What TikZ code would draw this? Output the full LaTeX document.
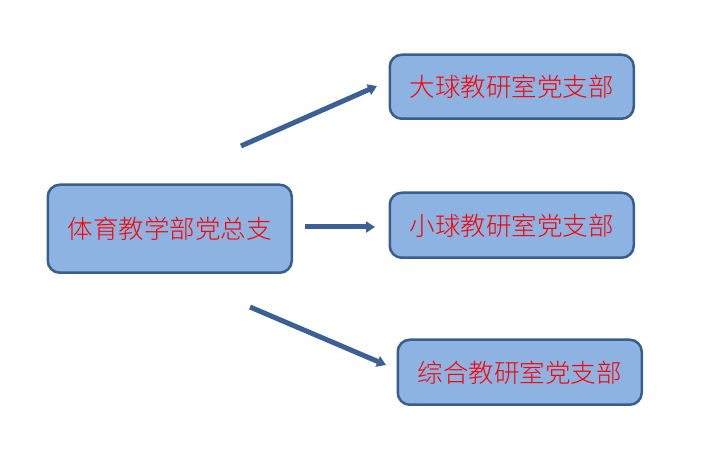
\documentclass[tikz,border=0pt]{standalone}
\usepackage{fontspec}
\newfontfamily\cjk{Noto Sans CJK SC Light}
\usetikzlibrary{arrows.meta}
\definecolor{boxfill}{HTML}{8DB3E2}
\definecolor{boxline}{HTML}{3A5E8C}
\definecolor{arrowc}{HTML}{3A6095}
\begin{document}
\begin{tikzpicture}[x=1pt,y=1pt,
  orgbox/.style={draw=boxline,fill=boxfill,line width=2.5pt,rounded corners=12pt,
    text=red,font=\cjk\fontsize{25.5}{30}\selectfont,anchor=north west,inner sep=0pt},
  link/.style={draw=arrowc,line width=5pt,-{Triangle[length=9pt,width=11pt]}}]
\useasboundingbox (0,0) rectangle (701,471);
\node[orgbox,minimum width=244pt,minimum height=88pt] (root) at (46.5,287.5) {体育教学部党总支};
\node[orgbox,minimum width=244pt,minimum height=64pt] (b1) at (388.5,417.5) {大球教研室党支部};
\node[orgbox,minimum width=244pt,minimum height=65pt] (b2) at (388.5,279.5) {小球教研室党支部};
\node[orgbox,minimum width=244pt,minimum height=65pt] (b3) at (396.5,132.5) {综合教研室党支部};
\coordinate (s1) at (241,325);
\coordinate (e1) at (377,385);
\coordinate (s2) at (305,244);
\coordinate (e2) at (375,244);
\coordinate (s3) at (250,164);
\coordinate (e3) at (386,106);
\draw[link] (s1) -- (e1);
\draw[link] (s2) -- (e2);
\draw[link] (s3) -- (e3);
\end{tikzpicture}
\end{document}
